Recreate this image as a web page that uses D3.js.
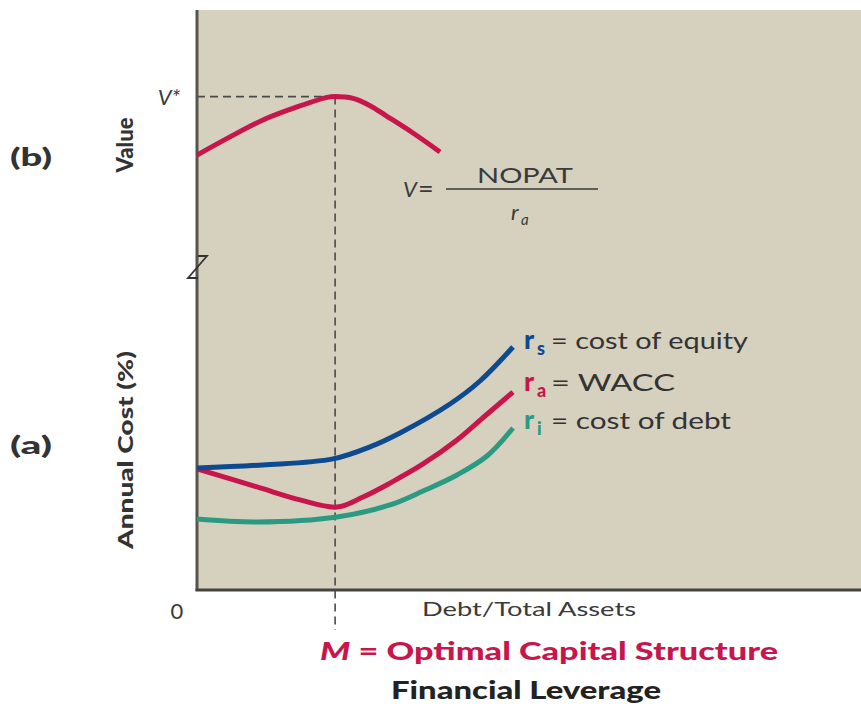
<!DOCTYPE html>
<html><head><meta charset="utf-8">
<script src="https://cdn.jsdelivr.net/npm/d3@7"></script>
<style>body{margin:0;background:#fff}svg{display:block}</style>
</head><body>
<svg id="c" width="861" height="704"></svg>
<script>
// Debt/Total Assets (%) vs. value / cost
const optimalM = 20.8;
const valueCurve = [[0,4.42],[4.97,5.12],[9.94,5.77],[15.06,6.27],[19.58,6.64],[20.8,6.67],[23.5,6.60],[26,6.33],[28.5,5.93],[32.53,5.27],[36.6,4.54]];
const vStar = 6.67;
const costEquity = [[0,6.31],[9.94,6.47],[20.48,6.78],[26.05,7.40],[30.57,8.12],[38.1,9.62],[42.62,10.81],[47.59,12.57]];
const wacc = [[0,6.26],[9.04,5.33],[15.51,4.66],[21.08,4.29],[25,4.81],[29.07,5.53],[34.04,6.52],[39.16,7.76],[43.37,9.0],[47.59,10.24]];
const costDebt = [[0,3.67],[9.04,3.52],[21.08,3.78],[29.07,4.40],[34.04,5.12],[39.16,5.95],[43.67,6.93],[47.59,8.38]];

const svg = d3.select("#c");
const x = d3.scaleLinear().domain([0,100]).range([197,861]);
const costY = d3.scaleLinear().domain([0,30]).range([590,10]);
const valY = d3.scaleLinear().domain([0,10]).range([270,10]);

const red="#c8164c", blue="#0d4a90", teal="#2a9a82", txt="#333";
const font="Lato, 'Open Sans', sans-serif";

svg.append("rect").attr("x",x(0)).attr("y",10).attr("width",861-x(0)).attr("height",580).attr("fill","#d6d0bf");

// dashed guides
svg.append("line").attr("x1",x(0)).attr("x2",x(optimalM)).attr("y1",valY(vStar)).attr("y2",valY(vStar))
  .attr("stroke","#4a4a4a").attr("stroke-width",1.6).attr("stroke-dasharray","8,5");
svg.append("line").attr("x1",x(optimalM)).attr("x2",x(optimalM)).attr("y1",valY(vStar)).attr("y2",630)
  .attr("stroke","#4a4a4a").attr("stroke-width",1.6).attr("stroke-dasharray","8,5");

// axes
svg.append("line").attr("x1",x(0)).attr("x2",x(0)).attr("y1",10).attr("y2",591).attr("stroke","#55554d").attr("stroke-width",3);
svg.append("line").attr("x1",x(0)-1.5).attr("x2",861).attr("y1",590).attr("y2",590).attr("stroke","#45453f").attr("stroke-width",3);
svg.append("path").attr("d","M198,256 L207,256 L188,278 L198,278").attr("fill","none").attr("stroke","#333").attr("stroke-width",1.8);

const lineV = d3.line().x(d=>x(d[0])).y(d=>valY(d[1])).curve(d3.curveCatmullRom.alpha(0.5));
const lineC = d3.line().x(d=>x(d[0])).y(d=>costY(d[1])).curve(d3.curveCatmullRom.alpha(0.5));
svg.append("path").attr("d",lineV(valueCurve)).attr("fill","none").attr("stroke",red).attr("stroke-width",5);
svg.append("path").attr("d",lineC(costDebt)).attr("fill","none").attr("stroke",teal).attr("stroke-width",5);
svg.append("path").attr("d",lineC(wacc)).attr("fill","none").attr("stroke",red).attr("stroke-width",5);
svg.append("path").attr("d",lineC(costEquity)).attr("fill","none").attr("stroke",blue).attr("stroke-width",5);

function t(xp,yp,s,o){
  const e=svg.append("text").attr("x",xp).attr("y",yp).text(s)
    .attr("font-family",font).attr("font-size",o.size||20).attr("fill",o.fill||txt)
    .attr("font-weight",o.weight||"normal").attr("font-style",o.style||"normal")
    .attr("text-anchor",o.anchor||"start");
  if(o.len) e.attr("textLength",o.len).attr("lengthAdjust","spacingAndGlyphs");
  if(o.rot) e.attr("transform",`rotate(-90,${xp},${yp})`);
  return e;
}
t(31,166,"(b)",{size:24,weight:"900",anchor:"middle",len:42});
t(31,454,"(a)",{size:24,weight:"900",anchor:"middle",len:42});
t(133,145,"Value",{size:22,weight:"900",anchor:"middle",rot:true});
t(133,450,"Annual Cost (%)",{size:21,weight:"900",anchor:"middle",rot:true,len:198});
t(169,105,"V*",{size:22,style:"italic",anchor:"middle",fill:"#3a3a3a"});

// formula
t(403,197,"V",{size:22,style:"italic",fill:"#3a3a3a"});
t(418,198,"=",{size:27,fill:"#3a3a3a"});
svg.append("line").attr("x1",446).attr("x2",598).attr("y1",189).attr("y2",189).attr("stroke","#3a3a3a").attr("stroke-width",1.4);
t(525,183,"NOPAT",{size:22,anchor:"middle",len:96,fill:"#3a3a3a"});
t(511,220,"r",{size:22,style:"italic",fill:"#3a3a3a"});
t(521,225,"a",{size:15,style:"italic",fill:"#3a3a3a"});

// legend labels
const legend=[{s:"s",label:"= cost of equity",c:blue,y:349,len:197},{s:"a",label:"= WACC",c:red,y:391,len:124},{s:"i",label:"= cost of debt",c:teal,y:429,len:180}];
legend.forEach(d=>{
  t(524,d.y,"r",{size:27,weight:"900",fill:d.c});
  t(537,d.y+6,d.s,{size:18,weight:"900",fill:d.c});
  t(551,d.y,d.label,{size:23,len:d.len});
});

t(177,619,"0",{size:22,anchor:"middle",fill:"#3a3a3a"});
t(529,616,"Debt/Total Assets",{size:20,anchor:"middle",len:214,fill:"#3a3a3a"});
const mt=svg.append("text").attr("x",320).attr("y",660).attr("font-family",font).attr("font-size",24).attr("font-weight","900").attr("fill",red)
  .attr("textLength",458).attr("lengthAdjust","spacingAndGlyphs");
mt.append("tspan").attr("font-style","italic").text("M");
mt.append("tspan").text(" = Optimal Capital Structure");
t(526,699,"Financial Leverage",{size:24,weight:"900",anchor:"middle",len:270,fill:"#222"});
</script>
</body></html>
